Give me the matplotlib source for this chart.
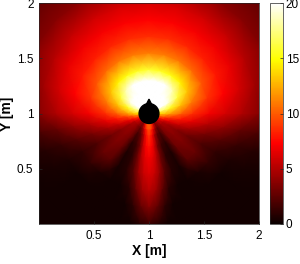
import numpy as np
import matplotlib
matplotlib.use("Agg")
import matplotlib.pyplot as plt
from matplotlib.patches import Circle, Polygon

plt.rcParams['font.family'] = ['Liberation Sans', 'DejaVu Sans']

# field sampled on a polar grid around the robot, read off the image
# angle measured from straight down (0) to straight up (180), field is mirror-symmetric about x = 1
angles_deg = [0, 5, 10, 15, 22, 30, 40, 50, 60, 70, 80, 90, 105, 120, 135, 150, 165, 180]
radii = [0.09, 0.15, 0.2, 0.3, 0.4, 0.55, 0.7, 0.85, 1.0, 1.2, 1.45]
field = [
    [10.5, 10.5, 10.0, 9.0, 6.5, 4.0, 4.5, 5.5, 7.0, 9.0, 11.5, 14.0, 17.5, 21.0, 24.0, 26.0, 27.0, 27.0],
    [9.5, 9.0, 8.0, 6.5, 4.0, 2.5, 3.5, 4.5, 5.0, 7.5, 10.0, 13.0, 17.0, 21.0, 24.0, 27.0, 28.5, 29.0],
    [8.8, 8.0, 6.5, 4.5, 2.5, 1.8, 3.5, 4.2, 4.5, 6.5, 9.0, 12.0, 15.5, 19.5, 22.5, 26.0, 28.0, 28.8],
    [7.8, 7.2, 5.5, 3.2, 1.5, 1.0, 3.2, 3.8, 3.6, 5.5, 7.8, 10.0, 13.0, 16.0, 18.5, 20.5, 21.5, 22.0],
    [7.0, 6.5, 5.0, 3.0, 1.0, 0.6, 2.9, 3.5, 3.0, 4.6, 6.6, 8.6, 11.0, 13.2, 14.6, 15.3, 15.6, 15.8],
    [6.2, 5.7, 4.2, 2.2, 0.8, 0.4, 2.4, 2.8, 2.0, 3.2, 5.0, 7.0, 8.8, 9.9, 10.4, 10.8, 11.0, 11.0],
    [5.2, 4.4, 2.5, 0.9, 0.3, 0.3, 0.5, 1.2, 1.1, 2.2, 4.0, 6.0, 7.3, 8.0, 8.2, 8.4, 8.6, 8.6],
    [3.6, 2.6, 1.0, 0.3, 0.3, 0.3, 0.3, 0.3, 0.6, 1.3, 2.7, 4.9, 6.0, 6.7, 6.9, 7.1, 7.25, 7.3],
    [1.5, 0.9, 0.3, 0.3, 0.3, 0.3, 0.3, 0.3, 0.4, 0.8, 2.0, 3.7, 4.4, 5.1, 5.6, 5.9, 6.1, 6.1],
    [0.3, 0.3, 0.3, 0.3, 0.3, 0.3, 0.3, 0.3, 0.3, 0.4, 1.3, 2.5, 3.0, 3.5, 3.7, 3.9, 4.05, 4.1],
    [0.3, 0.3, 0.3, 0.3, 0.3, 0.3, 0.3, 0.3, 0.3, 0.3, 0.8, 1.7, 2.1, 2.4, 2.5, 2.6, 2.65, 2.7],
]
robot_xy = (1.0, 1.0)
robot_radius = 0.09
nose_tip = 0.13
cbar_ticks = [0, 5, 10, 15, 20]
axis_ticks = [0.5, 1, 1.5, 2]

half = np.array(field)
ang = np.array(angles_deg, dtype=float)
vals = np.concatenate([half[:, :0:-1], half], axis=1)
ang_full = np.radians(np.concatenate([-ang[:0:-1], ang]))

A, R = np.meshgrid(ang_full, radii)
X = robot_xy[0] + R * np.sin(A)
Y = robot_xy[1] - R * np.cos(A)

fig = plt.figure(figsize=(3.0, 2.64), dpi=100)
ax = fig.add_axes([39 / 300, 1 - 224 / 264, 220 / 300, 221 / 264])
ax.set_facecolor('black')
mesh = ax.pcolormesh(X, Y, vals, shading='gouraud', cmap='hot', vmin=0, vmax=20)

ax.add_patch(Circle(robot_xy, robot_radius, color='black', zorder=3))
cx, cy = robot_xy
ax.add_patch(Polygon([(cx - 0.03, cy + 0.07), (cx + 0.03, cy + 0.07), (cx, cy + nose_tip)],
                     closed=True, color='black', zorder=3))

ax.set_xlim(0, 2)
ax.set_ylim(0, 2)
ax.set_xticks(axis_ticks)
ax.set_yticks(axis_ticks)
ax.set_xticklabels(['0.5', '1', '1.5', '2'])
ax.set_yticklabels(['0.5', '1', '1.5', '2'])
ax.tick_params(direction='in', length=2.5, width=0.5, labelsize=8.5, color='#262626', pad=4)
for s in ax.spines.values():
    s.set_linewidth(0.5)
    s.set_color('#262626')
ax.set_xlabel('X [m]', fontsize=10, fontweight='bold', labelpad=2)
ax.set_ylabel('Y [m]', fontsize=10, fontweight='bold', labelpad=2)

cax = fig.add_axes([270 / 300, 1 - 224 / 264, 13 / 300, 221 / 264])
cb = fig.colorbar(mesh, cax=cax, ticks=cbar_ticks)
cb.ax.tick_params(direction='in', length=2.5, width=0.5, labelsize=8.5, color='#262626', pad=2)
cb.outline.set_linewidth(0.5)
cb.outline.set_edgecolor('#262626')

fig.savefig('out.png', dpi=100)
